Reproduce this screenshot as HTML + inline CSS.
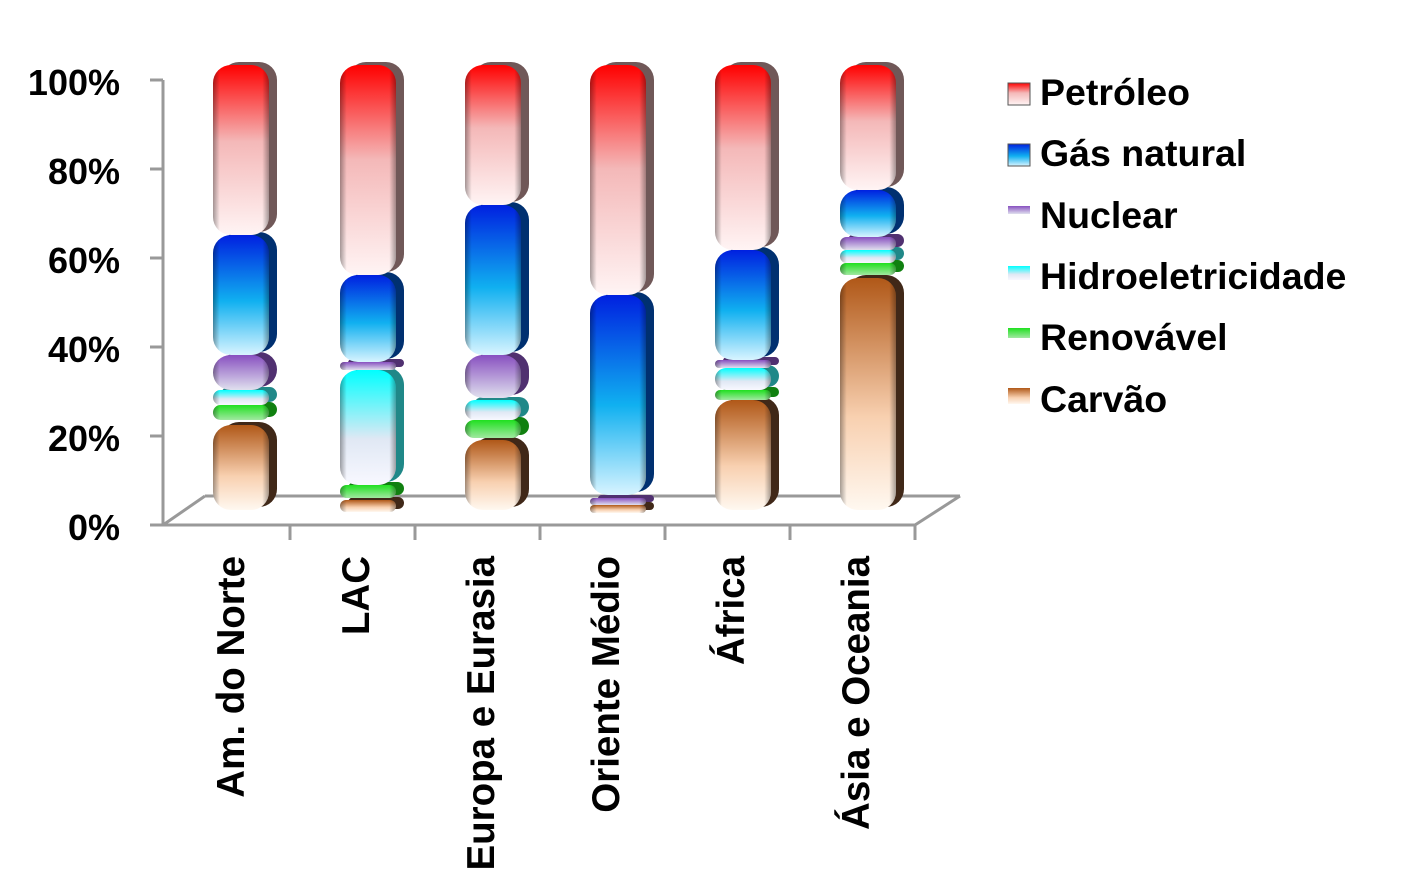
<!DOCTYPE html>
<html><head><meta charset="utf-8"><style>
body{margin:0;background:#fff}
text{font-family:"Liberation Sans",sans-serif;font-weight:bold}
</style></head><body>
<svg width="1404" height="883" xmlns="http://www.w3.org/2000/svg">
<defs>
<linearGradient id="gP" x1="0" y1="0" x2="0" y2="1"><stop offset="0" stop-color="#f00"/><stop offset="0.45" stop-color="#f4b8b8"/><stop offset="1" stop-color="#fff4f4"/></linearGradient>
<linearGradient id="gG" x1="0" y1="0" x2="0" y2="1"><stop offset="0" stop-color="#0020e0"/><stop offset="0.55" stop-color="#10b0f0"/><stop offset="1" stop-color="#d8f4ff"/></linearGradient>
<linearGradient id="gN" x1="0" y1="0" x2="0" y2="1"><stop offset="0" stop-color="#8850c0"/><stop offset="1" stop-color="#e0e0ee"/></linearGradient>
<linearGradient id="gH" x1="0" y1="0" x2="0" y2="1"><stop offset="0" stop-color="#00ffff"/><stop offset="0.6" stop-color="#e0e8f4"/><stop offset="1" stop-color="#f8f8ff"/></linearGradient>
<linearGradient id="gR" x1="0" y1="0" x2="0" y2="1"><stop offset="0" stop-color="#20e020"/><stop offset="1" stop-color="#a0e8a0"/></linearGradient>
<linearGradient id="gC" x1="0" y1="0" x2="0" y2="1"><stop offset="0" stop-color="#b05818"/><stop offset="0.6" stop-color="#f8d0b0"/><stop offset="1" stop-color="#fff8f0"/></linearGradient>
<linearGradient id="edge" x1="0" y1="0" x2="1" y2="0"><stop offset="0" stop-color="#000" stop-opacity="0.35"/><stop offset="0.12" stop-color="#000" stop-opacity="0"/><stop offset="0.88" stop-color="#000" stop-opacity="0"/><stop offset="1" stop-color="#000" stop-opacity="0.35"/></linearGradient>
</defs>
<g stroke="#999" stroke-width="3" fill="none">
<line x1="163" y1="80" x2="163" y2="525"/>
<line x1="163" y1="525" x2="915" y2="525"/>
<line x1="163" y1="525" x2="205" y2="496"/>
<line x1="205" y1="496" x2="960" y2="496"/>
<line x1="915" y1="525" x2="960" y2="496"/>
<line x1="150" y1="80" x2="163" y2="80"/><line x1="150" y1="169" x2="163" y2="169"/><line x1="150" y1="258" x2="163" y2="258"/><line x1="150" y1="347" x2="163" y2="347"/><line x1="150" y1="436" x2="163" y2="436"/><line x1="150" y1="525" x2="163" y2="525"/>
<line x1="290" y1="525" x2="290" y2="540"/><line x1="415" y1="525" x2="415" y2="540"/><line x1="540" y1="525" x2="540" y2="540"/><line x1="665" y1="525" x2="665" y2="540"/><line x1="790" y1="525" x2="790" y2="540"/><line x1="915" y1="525" x2="915" y2="540"/>
</g>
<g font-size="36" text-anchor="end" fill="#000">
<text x="120" y="95">100%</text><text x="120" y="184">80%</text><text x="120" y="273">60%</text><text x="120" y="362">40%</text><text x="120" y="451">20%</text><text x="120" y="540">0%</text>
</g>
<g id="bars"></g>
<g font-size="38.5" fill="#000" text-anchor="end">
<text transform="translate(244,556) rotate(-90)">Am. do Norte</text>
<text transform="translate(369,556) rotate(-90)">LAC</text>
<text transform="translate(494,556) rotate(-90)">Europa e Eurasia</text>
<text transform="translate(619,556) rotate(-90)">Oriente Médio</text>
<text transform="translate(744,556) rotate(-90)">África</text>
<text transform="translate(869,556) rotate(-90)">Ásia e Oceania</text>
</g>
<g font-size="37.5" fill="#000">
<rect x="1008" y="83" width="22" height="22" fill="url(#gP)" stroke="#555"/><text x="1040" y="105">Petróleo</text>
<rect x="1008" y="144" width="22" height="22" fill="url(#gG)" stroke="#555"/><text x="1040" y="166">Gás natural</text>
<rect x="1008" y="206" width="22" height="8" fill="url(#gN)"/><text x="1040" y="228">Nuclear</text>
<rect x="1008" y="266" width="22" height="14" fill="url(#gH)"/><text x="1040" y="289">Hidroeletricidade</text>
<rect x="1008" y="328" width="22" height="10" fill="url(#gR)"/><text x="1040" y="350">Renovável</text>
<rect x="1008" y="388" width="22" height="16" fill="url(#gC)"/><text x="1040" y="412">Carvão</text>
</g>
</svg>
<script>
var data=[
[245,[[425,510,'C'],[405,420,'R'],[390,405,'H'],[355,390,'N'],[235,355,'G'],[65,235,'P']]],
[372,[[500,512,'C'],[485,498,'R'],[370,485,'H'],[362,370,'N'],[275,362,'G'],[65,275,'P']]],
[497,[[440,510,'C'],[420,438,'R'],[400,420,'H'],[355,398,'N'],[205,355,'G'],[65,205,'P']]],
[622,[[505,513,'C'],[498,505,'N'],[295,495,'G'],[65,295,'P']]],
[747,[[400,510,'C'],[390,400,'R'],[368,390,'H'],[360,368,'N'],[250,360,'G'],[65,250,'P']]],
[872,[[278,510,'C'],[263,275,'R'],[250,263,'H'],[237,250,'N'],[190,237,'G'],[65,190,'P']]]];
var dark={P:'#705858',G:'#003070',N:'#503070',H:'#208888',R:'#108010',C:'#402818'};
var s='';
data.forEach(function(b){var cx=b[0];b[1].forEach(function(g){
var y=g[0],h=g[1]-g[0],w=56,x=cx-w/2-4,r=Math.min(h/2,18);
s+='<rect x="'+(x+8)+'" y="'+(y-3)+'" width="'+w+'" height="'+h+'" rx="'+r+'" fill="'+dark[g[2]]+'"/>';
s+='<rect x="'+x+'" y="'+y+'" width="'+w+'" height="'+h+'" rx="'+r+'" fill="url(#g'+g[2]+')"/>';
s+='<rect x="'+x+'" y="'+y+'" width="'+w+'" height="'+h+'" rx="'+r+'" fill="url(#edge)"/>';
});});
document.getElementById('bars').innerHTML=s;
</script>
</body></html>
